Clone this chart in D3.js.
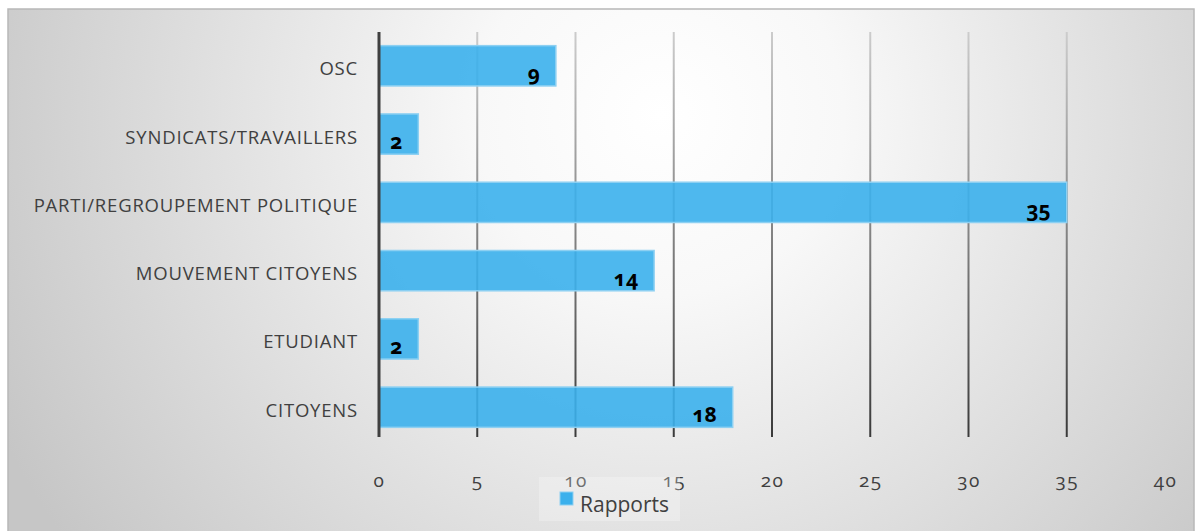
<!DOCTYPE html>
<html>
<head>
<meta charset="utf-8">
<script src="https://cdn.jsdelivr.net/npm/d3@7"></script>
<style>
  body { margin: 0; background: #ffffff; }
  svg { display: block; font-family: "Open Sans", "DejaVu Sans", sans-serif; }
</style>
</head>
<body>
<svg></svg>
<script>
// Chart data
let categories = ['OSC', 'SYNDICATS/TRAVAILLERS', 'PARTI/REGROUPEMENT POLITIQUE', 'MOUVEMENT CITOYENS', 'ETUDIANT', 'CITOYENS'];
let rapports = [9, 2, 35, 14, 2, 18];
let xTicks = [0, 5, 10, 15, 20, 25, 30, 35, 40];
let seriesName = 'Rapports';

// SVG dimensions
let width = 1200, height = 531;
let plotLeft = 379, plotRight = 1165, plotTop = 32, plotBottom = 437;

let svg = d3.select('svg')
    .attr('width', width)
    .attr('height', height);

let defs = svg.append('defs');

// Background gradient of the chart area
let bg = defs.append('radialGradient')
    .attr('id', 'bg')
    .attr('cx', '0.55').attr('cy', '0.2').attr('r', '0.62')
    .attr('gradientTransform', 'translate(0.55,0.2) scale(1,2.2) translate(-0.55,-0.2)');
bg.append('stop').attr('offset', '0%').attr('stop-color', '#ffffff');
bg.append('stop').attr('offset', '25%').attr('stop-color', '#f8f8f8');
bg.append('stop').attr('offset', '100%').attr('stop-color', '#c6c6c6');

// Gridline gradient: light at top, dark at bottom
let grid = defs.append('linearGradient')
    .attr('id', 'grid')
    .attr('gradientUnits', 'userSpaceOnUse')
    .attr('x1', 0).attr('y1', plotTop).attr('x2', 0).attr('y2', plotBottom);
grid.append('stop').attr('offset', '0%').attr('stop-color', '#cccccc');
grid.append('stop').attr('offset', '100%').attr('stop-color', '#3a3a3a');

svg.append('rect')
    .attr('x', 8).attr('y', 9)
    .attr('width', 1186).attr('height', 530)
    .attr('fill', 'url(#bg)')
    .attr('stroke', '#b8b8b8')
    .attr('stroke-width', 1.5);

// Scales
let xScale = d3.scaleLinear()
    .domain([0, 40])
    .range([plotLeft, plotRight]);

let yScale = d3.scaleBand()
    .domain(categories)
    .range([plotTop, plotBottom + 4])
    .paddingInner(0.41)
    .paddingOuter(0.2);

// Gridlines (the last one falls on the plot edge and is not drawn)
svg.append('g')
    .selectAll('line')
    .data(xTicks.filter(t => t > 0 && t < 40))
    .enter()
    .append('line')
    .attr('x1', d => xScale(d)).attr('x2', d => xScale(d))
    .attr('y1', plotTop).attr('y2', plotBottom)
    .attr('stroke', 'url(#grid)')
    .attr('stroke-width', 2);

// Bars
svg.append('g')
    .selectAll('rect')
    .data(rapports)
    .enter()
    .append('rect')
    .attr('x', xScale(0))
    .attr('y', (d, i) => yScale(categories[i]))
    .attr('width', d => xScale(d) - xScale(0))
    .attr('height', yScale.bandwidth())
    .attr('fill', '#3bb0ec')
    .attr('fill-opacity', 0.9)
    .attr('stroke', '#8dd0f2')
    .attr('stroke-width', 1.5);

// Value labels
svg.append('g')
    .selectAll('text')
    .data(rapports)
    .enter()
    .append('text')
    .attr('x', d => xScale(d) - 16)
    .attr('y', (d, i) => yScale(categories[i]) + yScale.bandwidth() / 2 + 15)
    .attr('text-anchor', 'end')
    .style('font-size', '21px')
    .style('font-weight', 'bold')
    .style('font-variant-numeric', 'oldstyle-nums')
    .style('fill', '#000000')
    .text(d => d);

// Y axis (category labels and the dark baseline)
let yAxis = d3.axisLeft(yScale).tickSize(0).tickPadding(21);
let yAxisG = svg.append('g')
    .attr('id', 'y-axis')
    .attr('transform', `translate(${plotLeft}, 3)`)
    .call(yAxis);
yAxisG.select('.domain').remove();
yAxisG.selectAll('text')
    .attr('dy', '0.35em')
    .style('font-size', '18.5px')
    .style('letter-spacing', '0.8px')
    .style('font-family', '"Open Sans", sans-serif')
    .style('fill', '#404040');

svg.append('line')
    .attr('x1', plotLeft).attr('x2', plotLeft)
    .attr('y1', plotTop).attr('y2', plotBottom)
    .attr('stroke', '#404040')
    .attr('stroke-width', 3);

// X axis tick labels
let xAxis = d3.axisBottom(xScale).tickValues(xTicks).tickSize(0).tickPadding(0);
let xAxisG = svg.append('g')
    .attr('id', 'x-axis')
    .attr('transform', `translate(0, ${plotBottom + 36})`)
    .call(xAxis);
xAxisG.select('.domain').remove();
xAxisG.selectAll('text')
    .style('font-size', '19px')
    .style('font-family', '"Open Sans", sans-serif')
    .style('font-variant-numeric', 'oldstyle-nums')
    .style('letter-spacing', '1.5px')
    .style('fill', '#404040');

// Legend
let legend = svg.append('g').attr('id', 'legend');
legend.append('rect')
    .attr('x', 539).attr('y', 477)
    .attr('width', 141).attr('height', 44)
    .attr('fill', '#ffffff')
    .attr('fill-opacity', 0.25);
legend.append('rect')
    .attr('x', 560).attr('y', 492)
    .attr('width', 13).attr('height', 13)
    .attr('fill', '#3bb0ec')
    .attr('stroke', '#8dd0f2')
    .attr('stroke-width', 1);
legend.append('text')
    .attr('x', 580).attr('y', 512)
    .style('font-size', '21px')
    .style('fill', '#404040')
    .text(seriesName);
</script>
</body>
</html>
